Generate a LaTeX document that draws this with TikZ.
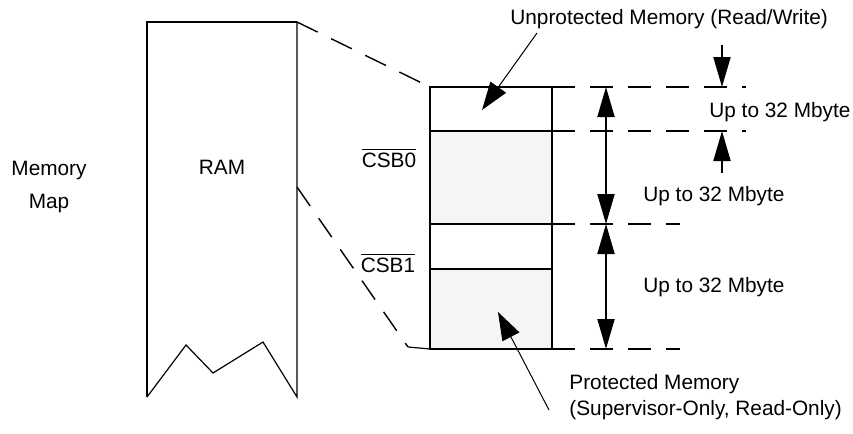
\documentclass[tikz,border=0pt]{standalone}
\usepackage{fontspec}
\setmainfont{Liberation Sans}
\usepackage{tikz}
\usetikzlibrary{arrows.meta, positioning, calc}
\definecolor{ShadeGray}{RGB}{245, 245, 245}

\begin{document}
\begin{tikzpicture}[
    x=0.5pt, y=-0.5pt,
    font=\fontsize{10.4}{12}\selectfont,
    boxline/.style={line width=1pt},
    guideline/.style={line width=0.7pt, dash pattern=on 11.5pt off 7.5pt},
    dimarrow/.style={
      line width=1pt,
      {Triangle[length=15pt, width=8.5pt]}-{Triangle[length=15pt, width=8.5pt]}
    },
    limitarrow/.style={line width=1pt, -{Triangle[length=15pt, width=8.5pt]}},
    pointer/.style={line width=0.5pt, -{Triangle[length=14pt, width=9.5pt]}},
    label/.style={inner sep=0pt}
  ]
  \useasboundingbox (0,0) rectangle (853,434);

  % RAM strip
  \coordinate (ramTL) at (147,22);
  \coordinate (ramTR) at (297,22);
  \coordinate (ramMR) at (297,187);
  \draw[line width=1pt] (147,397) -- (ramTL) -- (ramTR);
  \draw[line width=0.6pt] (ramTR) -- (297,397) -- (263,342) -- (213,373)
    -- (186,345) -- (147,397);
  \node[label] (ram) at (222,167) {RAM};
  \node[label, align=center] (memmap) at (49,187) {Memory\\[4.5pt]Map};

  % memory block
  \coordinate (blkTL) at (430,87);
  \coordinate (blkBL) at (430,349);
  \coordinate (blkKink) at (408,347);
  \fill[ShadeGray] (430,131) rectangle (552,224);
  \fill[ShadeGray] (430,269) rectangle (552,349);
  \draw[boxline] (blkTL) rectangle (552,349);
  \draw[boxline] (430,131) -- (552,131);
  \draw[boxline] (430,224) -- (552,224);
  \draw[boxline] (430,269) -- (552,269);

  \draw[guideline] (ramTR) -- (blkTL);
  \draw[guideline] (ramMR) -- (blkKink);
  \draw[line width=0.6pt] (blkKink) -- (blkBL);

  \node[label] (csb0) at (389,158) {$\overline{\mbox{CSB0}}$};
  \node[label] (csb1) at (388,263) {$\overline{\mbox{CSB1}}$};

  % extension lines
  \coordinate (ext0) at (552,87);
  \coordinate (ext1) at (552,131);
  \coordinate (ext2) at (552,224);
  \coordinate (ext3) at (552,349);
  \draw[guideline] (ext0) -- (746,87);
  \draw[guideline] (ext1) -- (746,131);
  \draw[guideline] (ext2) -- (680,224);
  \draw[guideline] (ext3) -- (680,349);

  % dimensions
  \coordinate (dimA) at (606,87);
  \coordinate (dimB) at (606,224);
  \coordinate (dimC) at (606,349);
  \draw[dimarrow] (dimA) -- (dimB);
  \draw[dimarrow] (dimB) -- (dimC);
  \coordinate (topIn) at (722,45);
  \coordinate (topAt) at (722,87);
  \coordinate (botIn) at (722,173);
  \coordinate (botAt) at (722,131);
  \draw[limitarrow] (topIn) -- (topAt);
  \draw[limitarrow] (botIn) -- (botAt);

  \node[label, anchor=west] (size0) at (709,112) {Up to 32 Mbyte};
  \node[label, anchor=west] (size1) at (643,196) {Up to 32 Mbyte};
  \node[label, anchor=west] (size2) at (643,287) {Up to 32 Mbyte};

  % region notes
  \node[label, anchor=west] (unprot) at (510,19) {Unprotected Memory (Read/Write)};
  \node[label, anchor=west, align=left] (prot) at (569,397)
    {Protected Memory\\[1pt](Supervisor-Only, Read-Only)};
  \coordinate (unprotFrom) at (537,33);
  \coordinate (unprotTo) at (482,110);
  \coordinate (protFrom) at (549,410);
  \coordinate (protTo) at (498,312);
  \draw[pointer] (unprotFrom) -- (unprotTo);
  \draw[pointer] (protFrom) -- (protTo);
\end{tikzpicture}
\end{document}
